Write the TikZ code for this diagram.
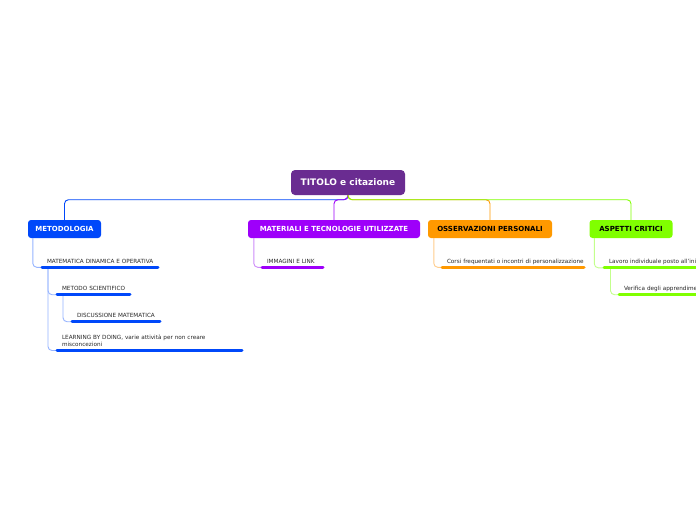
\documentclass[tikz,border=0pt]{standalone}
\usepackage{fontspec}
\setmainfont{DejaVu Sans}
\definecolor{rootc}{RGB}{106,44,145}
\definecolor{bluec}{RGB}{0,72,250}
\definecolor{purplec}{RGB}{158,0,250}
\definecolor{orangec}{RGB}{255,153,0}
\definecolor{greenc}{RGB}{128,255,0}
\definecolor{bluel}{RGB}{150,180,255}
\definecolor{purplel}{RGB}{205,140,250}
\definecolor{orangel}{RGB}{255,205,140}
\definecolor{greenl}{RGB}{195,255,140}
\definecolor{subtext}{RGB}{40,40,40}
\tikzset{
  mainbox/.style={rounded corners=3pt, inner sep=0pt, minimum height=18pt, font=\fontsize{7}{8}\bfseries\selectfont},
  rootbox/.style={rounded corners=4pt, inner sep=0pt, minimum height=25pt, minimum width=114pt, fill=rootc, text=white, font=\fontsize{9}{10}\bfseries\selectfont},
  subtopic/.style={anchor=south west, inner xsep=5pt, inner ysep=4pt, outer sep=0pt, text depth=0pt, align=left, text=subtext, font=\fontsize{5.7}{7}\selectfont},
  bar/.style={line width=3pt, line cap=round},
  link/.style={line width=0.9pt, rounded corners=4pt},
  sublink/.style={line width=0.9pt, rounded corners=4pt},
}
\begin{document}
\begin{tikzpicture}[x=1pt,y=-1pt]
\useasboundingbox (0,0) rectangle (696,520);
\fill[white] (0,0) rectangle (696,520);
\clip (0,0) rectangle (696,520);

% main nodes
\node[rootbox] (root) at (348,182.5) {TITOLO e citazione};
\node[mainbox, fill=bluec, text=white, minimum width=73pt] (met) at (64.5,229) {METODOLOGIA};
\node[mainbox, fill=purplec, text=white, minimum width=172pt] (mat) at (334,229) {MATERIALI E TECNOLOGIE UTILIZZATE};
\node[mainbox, fill=orangec, text=black, minimum width=124pt] (oss) at (490,229) {OSSERVAZIONI PERSONALI};
\node[mainbox, fill=greenc, text=black, minimum width=83pt] (asp) at (631,229) {ASPETTI CRITICI};

% root links
\draw[link, bluec] (root.south) -- ++(0,4.5) -| (met.north);
\draw[link, purplec] (root.south) -- ++(0,4.5) -| (mat.north);
\draw[link, orangec] (root.south) -- ++(0,4.5) -| (oss.north);
\draw[link, greenc] (root.south) -- ++(0,4.5) -| (asp.north);

% METODOLOGIA subtopics
\node[subtopic, text width=106pt] (m1) at (42,267.3) {\mbox{MATEMATICA DINAMICA E OPERATIVA}};
\node[subtopic, text width=63pt] (m2) at (57,294.7) {\mbox{METODO SCIENTIFICO}};
\node[subtopic, text width=78pt] (m3) at (72,321.7) {\mbox{DISCUSSIONE MATEMATICA}};
\node[subtopic, text width=175pt, text depth=7pt] (m4) at (57,350.5) {\mbox{LEARNING BY DOING, varie attività per non creare}\\\mbox{misconcezioni}};

\draw[sublink, bluel] ([xshift=5pt]met.south west) |- (m1.south west);
\draw[sublink, bluel] ([xshift=6pt]m1.south west) |- (m2.south west);
\draw[sublink, bluel] ([xshift=6pt]m1.south west) |- (m4.south west);
\draw[sublink, bluel] ([xshift=6pt]m2.south west) |- (m3.south west);
\foreach \n in {m1,m2,m3,m4} \draw[bar, bluec] (\n.south west) -- (\n.south east);

% MATERIALI subtopics
\node[subtopic, text width=51pt] (t1) at (262,267.3) {\mbox{IMMAGINI E LINK}};
\draw[sublink, purplel] ([xshift=6pt]mat.south west) |- (t1.south west);
\draw[bar, purplec] (t1.south west) -- (t1.south east);

% OSSERVAZIONI subtopics
\node[subtopic, text width=132pt] (o1) at (442,267.3) {\mbox{Corsi frequentati o incontri di personalizzazione}};
\draw[sublink, orangel] ([xshift=6pt]oss.south west) |- (o1.south west);
\draw[bar, orangec] (o1.south west) -- (o1.south east);

% ASPETTI CRITICI subtopics
\node[subtopic, text width=200pt] (a1) at (604,267.8) {\mbox{Lavoro individuale posto all'inizio}};
\node[subtopic, text width=200pt] (a2) at (619,294.7) {\mbox{Verifica degli apprendimenti}};
\draw[sublink, greenl] ([xshift=5pt]asp.south west) |- (a1.south west);
\draw[sublink, greenl] ([xshift=6.5pt]a1.south west) |- (a2.south west);
\draw[bar, greenc] (a1.south west) -- (a1.south east);
\draw[bar, greenc] (a2.south west) -- (a2.south east);
\end{tikzpicture}
\end{document}
